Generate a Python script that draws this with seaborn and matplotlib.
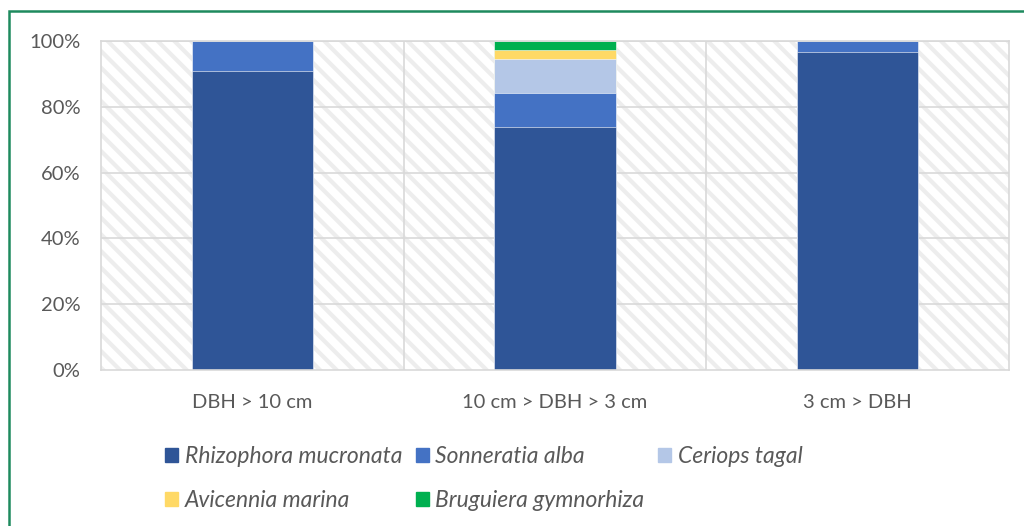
import numpy as np
import pandas as pd
from matplotlib import pyplot as plt
from matplotlib import patches as mpatches
import seaborn as sns

# share of each species per diameter class (%)
categories = ["DBH > 10 cm", "10 cm > DBH > 3 cm", "3 cm > DBH"]
species = ["Rhizophora mucronata", "Sonneratia alba", "Ceriops tagal",
           "Avicennia marina", "Bruguiera gymnorhiza"]
rhizophora = [91.0, 73.8, 96.6]
sonneratia = [9.0, 10.5, 3.4]
ceriops = [0.0, 10.2, 0.0]
avicennia = [0.0, 2.8, 0.0]
bruguiera = [0.0, 2.7, 0.0]
colors = ["#2F5597", "#4472C4", "#B4C7E7", "#FFD966", "#00B050"]

df = pd.DataFrame({"category": categories,
                   species[0]: rhizophora, species[1]: sonneratia,
                   species[2]: ceriops, species[3]: avicennia,
                   species[4]: bruguiera})

#cumulative tops so the stacks can be drawn back to front
cum = df[species].cumsum(axis=1)

sns.set_style("white")
plt.rcParams['font.family'] = ['Lato', 'DejaVu Sans']
plt.rcParams['hatch.linewidth'] = 3.0
text_gray = "#595959"
grid_gray = "#d9d9d9"

fig = plt.figure(figsize=(10.24, 5.26), dpi=100)
ax = fig.add_axes([101/1024, 1 - 370/526, 908/1024, 329/526])

#hatched plot area background
ax.add_patch(mpatches.Rectangle((0, 0), 1, 1, transform=ax.transAxes,
                                facecolor="white", edgecolor="#ededed",
                                hatch="\\\\", linewidth=0, zorder=0))

for sp, col in reversed(list(zip(species, colors))):
    sns.barplot(x=df["category"], y=cum[sp], color=col, saturation=1,
                width=0.4, ax=ax, edgecolor="#ffffff", linewidth=0.4,
                zorder=2)

ax.set_xlim(-0.5, 2.5)
ax.set_ylim(0, 100)
ax.set_yticks(np.arange(0, 101, 20))
ax.set_yticklabels([f"{v}%" for v in range(0, 101, 20)])
for y in range(20, 101, 20):
    ax.axhline(y, color=grid_gray, linewidth=1.2, zorder=1)
for x in [0.5, 1.5]:
    ax.axvline(x, color=grid_gray, linewidth=1.2, zorder=1)
for s in ax.spines.values():
    s.set_color(grid_gray)
    s.set_linewidth(1.2)
    s.set_visible(True)

ax.set_xlabel("")
ax.set_ylabel("")
ax.tick_params(axis="both", length=0, labelsize=14.5, labelcolor=text_gray)
ax.tick_params(axis="x", pad=17)
ax.tick_params(axis="y", pad=15)

#legend, two rows of three (matplotlib fills by column, so reorder)
handles = [mpatches.Patch(color=c, label=s) for s, c in zip(species, colors)]
order = [0, 3, 1, 4, 2]
fig.legend(handles=[handles[i] for i in order], loc="upper left",
           bbox_to_anchor=(156/1024, 1 - 437/526),
           ncol=3, frameon=False, labelcolor=text_gray,
           prop={"family": "Lato", "style": "italic", "size": 16.5},
           handlelength=0.55, handleheight=0.55, handletextpad=0.3,
           columnspacing=0.6, labelspacing=1.0, borderaxespad=0)

#green frame around the chart
fig.patches.append(mpatches.Rectangle((9/1024, -0.1), 1.1, 1.1 - 11/526,
                                      transform=fig.transFigure, fill=False,
                                      edgecolor="#1E8A5E", linewidth=1.8))

fig.savefig("out.png", dpi=100)
